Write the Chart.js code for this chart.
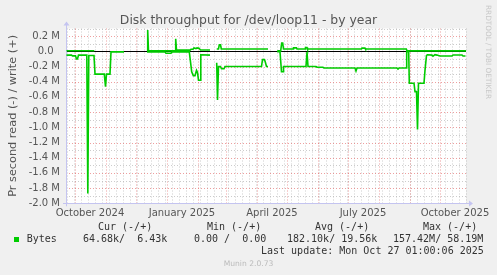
<!DOCTYPE html>
<html>
<head>
<meta charset="utf-8">
<script src="https://cdn.jsdelivr.net/npm/chart.js@4.4.1/dist/chart.umd.min.js"></script>
<style>
  html, body { margin: 0; padding: 0; background: #f0f0f0; }
  #wrap { position: relative; width: 497px; height: 275px; overflow: hidden; }
  #chart { position: absolute; left: 0; top: 0; }
  .t { position: absolute; white-space: pre; font-family: 'DejaVu Sans', sans-serif; color: #444; }
  .mono { font-family: 'DejaVu Sans Mono', monospace; font-size: 10px; line-height: 10px; color: #333; }
  #title { left: 0; width: 497px; text-align: center; top: 13.5px; font-size: 12.4px; line-height: 12.4px; color: #555; }
  #rrd { left: 483.5px; top: 5px; font-size: 7.3px; line-height: 8px; color: #c8c8c8; writing-mode: vertical-rl; }
  #munin { left: 0; width: 497px; text-align: center; top: 260px; font-size: 7.6px; line-height: 7.6px; color: #bbb; }
  #swatch { position: absolute; left: 14px; top: 237px; width: 5px; height: 5px; background: #00cc00; }
</style>
</head>
<body>
<div id="wrap">
  <canvas id="chart" width="497" height="275"></canvas>
  <div class="t" id="title">Disk throughput for /dev/loop11 - by year</div>
  <div class="t" id="rrd">RRDTOOL / TOBI OETIKER</div>
  <div class="t mono" style="left:98px;top:222.3px">Cur (-/+)</div>
  <div class="t mono" style="left:207px;top:222.3px">Min (-/+)</div>
  <div class="t mono" style="left:315px;top:222.3px">Avg (-/+)</div>
  <div class="t mono" style="left:423px;top:222.3px">Max (-/+)</div>
  <div id="swatch"></div>
  <div class="t mono" style="left:26.7px;top:233.8px">Bytes</div>
  <div class="t mono" style="left:83px;top:233.8px">64.68k/  6.43k</div>
  <div class="t mono" style="left:194px;top:233.8px">0.00 /  0.00</div>
  <div class="t mono" style="left:287px;top:233.8px">182.10k/ 19.56k</div>
  <div class="t mono" style="left:393px;top:233.8px">157.42M/ 58.19M</div>
  <div class="t mono" style="left:261px;top:246px">Last update: Mon Oct 27 01:00:06 2025</div>
  <div class="t" id="munin">Munin 2.0.73</div>
</div>
<script>
// time axis: days since the left edge of the graph (400 days ending at last update)
const startTime = Date.UTC(2024, 8, 22, 1, 0, 6)
const dayMs = 86400000
const spanDays = 400

// read (drawn negative), values in M bytes/s, null = no data
const readDays = [0.5, 5.5, 6.5, 9.5, 10.5, 11.5, 12.5, 20.8, 21.8, 22.8, 28, 29, 38.3, 39.5, 40.5, 44, 45, 58, 58.5,
    81, 99, 100, 105, 106, 123.3, 125.7, 127.3, 129, 130.5, 131.5, 132.5, 134.3, 134.8, 144, 146,
    150.7, 151.5, 152.5, 154.5, 155.5, 158, 159, 195.5, 196.5, 198.5, 199.5, 200.5, 202, 205,
    211.3, 214, 215.5, 217, 217.5, 240, 241, 242, 250, 251, 257, 258, 289, 290, 291, 331, 332, 333, 340,
    340.7, 342.7, 343.3, 348, 349, 350.5, 351.5, 352.5, 358, 359, 360.5, 361.5, 366, 367, 369, 371, 374,
    386, 387, 396, 397, 399.5]
const readValues = [-0.05, -0.05, -0.06, -0.06, -0.10, -0.10, -0.05, -0.05, -1.87, -0.055, -0.055, -0.30, -0.30, -0.465, -0.30, -0.30, -0.008, -0.008, null,
    -0.01, -0.01, -0.025, -0.025, -0.008, -0.008, -0.27, -0.32, -0.32, -0.25, -0.28, -0.38, -0.38, -0.045, -0.05, null,
    -0.15, -0.64, -0.20, -0.20, -0.23, -0.23, -0.20, -0.20, -0.11, -0.11, -0.15, -0.20, -0.20, null,
    -0.005, -0.005, -0.27, -0.27, -0.20, -0.20, -0.01, -0.20, -0.20, -0.21, -0.21, -0.22, -0.22, -0.26, -0.22, -0.22, -0.235, -0.22, -0.22,
    -0.005, -0.005, -0.42, -0.42, -0.53, -0.53, -1.03, -0.42, -0.42, -0.25, -0.055, -0.045, -0.05, -0.065, -0.045, -0.05, -0.062,
    -0.062, -0.048, -0.048, -0.062, -0.062]

// write (drawn positive)
const writeDays = [0.5, 28.3, 29,
    81, 81.7, 82.5, 109, 109.7, 110.5, 124, 125, 127, 128, 130, 131, 133, 134.5, 144, 147,
    150.7, 152.5, 153.3, 154.5, 155.3, 202, 205,
    211.3, 214.7, 215.7, 216.7, 217.5, 227, 227.5, 230.5, 231, 239, 239.5, 241, 241.5, 295.5, 296, 299, 299.5, 340.3, 341, 400]
const writeValues = [0.008, 0.008, null,
    0.005, 0.28, 0.005, 0.005, 0.166, 0.015, 0.015, 0.026, 0.026, 0.043, 0.035, 0.045, 0.04, 0.017, 0.017, null,
    0.03, 0.03, 0.085, 0.085, 0.03, 0.03, null,
    0.005, 0.005, 0.11, 0.11, 0.03, 0.03, 0.045, 0.045, 0.03, 0.03, 0.05, 0.05, 0.03, 0.03, 0.042, 0.042, 0.03, 0.03, 0.006, 0.006]

const yTickValues = [-2.0, -1.8, -1.6, -1.4, -1.2, -1.0, -0.8, -0.6, -0.4, -0.2, 0.0, 0.2]
const xLabels = ['October 2024', 'January 2025', 'April 2025', 'July 2025', 'October 2025']
const xLabelDates = [[2024, 9, 16], [2025, 0, 16], [2025, 3, 16], [2025, 6, 16], [2025, 9, 16]]

const toDay = (y, m, d) => (Date.UTC(y, m, d) - startTime) / dayMs
const labelDays = xLabelDates.map(d => toDay(d[0], d[1], d[2]))

// month starts (major grid) and mondays (minor grid)
const monthStarts = []
for (let y = 2024, m = 9; toDay(y, m, 1) < spanDays; m++) {
    if (m > 11) { m = 0; y++ }
    monthStarts.push(toDay(y, m, 1))
}
const mondays = []
for (let d = toDay(2024, 8, 23); d < spanDays; d += 7) mondays.push(d)

const green = '#00cc00'
const majorColor = 'rgba(224, 80, 80, 0.55)'
const minorColor = 'rgba(170, 170, 170, 0.6)'
const axisColor = '#c4c4f0'

const muninGrid = {
    id: 'muninGrid',
    beforeDatasetsDraw(chart) {
        const { ctx, chartArea: a, scales: { x, y } } = chart
        ctx.save()
        ctx.fillStyle = '#ffffff'
        ctx.fillRect(a.left, a.top, a.right - a.left, a.bottom - a.top)
        ctx.lineWidth = 1
        ctx.setLineDash([1, 2])

        const vline = (d, color) => {
            const px = Math.round(x.getPixelForValue(d)) + 0.5
            ctx.strokeStyle = color
            ctx.beginPath(); ctx.moveTo(px, a.top); ctx.lineTo(px, a.bottom); ctx.stroke()
        }
        const hline = (v, color) => {
            const py = Math.round(y.getPixelForValue(v)) + 0.5
            ctx.strokeStyle = color
            ctx.beginPath(); ctx.moveTo(a.left, py); ctx.lineTo(a.right, py); ctx.stroke()
        }
        mondays.forEach(d => vline(d, minorColor))
        for (let i = -19; i <= 3; i += 2) hline(i / 10, minorColor)
        monthStarts.forEach(d => vline(d, majorColor))
        yTickValues.forEach(v => hline(v, majorColor))

        ctx.setLineDash([])
        // zero line
        ctx.strokeStyle = '#000'
        const zy = Math.round(y.getPixelForValue(0)) + 0.5
        ctx.beginPath(); ctx.moveTo(a.left, zy); ctx.lineTo(a.right, zy); ctx.stroke()

        // axes with arrows
        ctx.strokeStyle = axisColor
        ctx.fillStyle = axisColor
        const ax = Math.round(a.left) + 0.5
        const ay = Math.round(a.bottom) + 0.5
        ctx.beginPath(); ctx.moveTo(ax, a.bottom + 3); ctx.lineTo(ax, a.top - 4); ctx.stroke()
        ctx.beginPath(); ctx.moveTo(a.left - 3, ay); ctx.lineTo(a.right + 4, ay); ctx.stroke()
        ctx.beginPath(); ctx.moveTo(ax - 3, a.top - 3); ctx.lineTo(ax + 3, a.top - 3); ctx.lineTo(ax, a.top - 7); ctx.closePath(); ctx.fill()
        ctx.beginPath(); ctx.moveTo(a.right + 3, ay - 3); ctx.lineTo(a.right + 3, ay + 3); ctx.lineTo(a.right + 7, ay); ctx.closePath(); ctx.fill()
        ctx.restore()
    }
}

const tickFont = { family: 'DejaVu Sans', size: 10 }

new Chart(document.getElementById('chart'), {
    type: 'line',
    data: {
        datasets: [
            {
                label: 'read',
                data: readDays.map((d, i) => ({ x: d, y: readValues[i] })),
                borderColor: green,
                borderWidth: 1.6
            },
            {
                label: 'write',
                data: writeDays.map((d, i) => ({ x: d, y: writeValues[i] })),
                borderColor: green,
                borderWidth: 1.6
            }
        ]
    },
    options: {
        responsive: false,
        animation: false,
        spanGaps: false,
        layout: { padding: { left: 0, right: 31, top: 28.5, bottom: 0 } },
        elements: { point: { radius: 0 }, line: { tension: 0 } },
        plugins: { legend: { display: false }, tooltip: { enabled: false } },
        scales: {
            x: {
                type: 'linear',
                min: 0,
                max: spanDays,
                afterFit(s) { s.height = 71.7 },
                afterBuildTicks(s) { s.ticks = labelDays.map(v => ({ value: v })) },
                grid: { display: false, drawTicks: false },
                border: { display: false },
                ticks: {
                    autoSkip: false,
                    maxRotation: 0,
                    padding: 4,
                    color: '#555',
                    font: tickFont,
                    callback: (v, i) => xLabels[i]
                }
            },
            y: {
                min: -2.0,
                max: 0.3,
                afterFit(s) { s.width = 66 },
                afterBuildTicks(s) { s.ticks = yTickValues.map(v => ({ value: v })) },
                grid: { display: false, drawTicks: false },
                border: { display: false },
                ticks: {
                    padding: 6,
                    color: '#555',
                    font: tickFont,
                    callback: v => Math.abs(v) < 1e-9 ? '0.0  ' : v.toFixed(1) + ' M'
                },
                title: {
                    display: true,
                    text: 'Pr second read (-) / write (+)',
                    color: '#555',
                    font: { family: 'DejaVu Sans', size: 11.3 },
                    padding: { top: 6, bottom: 0 }
                }
            }
        }
    },
    plugins: [muninGrid]
})
</script>
</body>
</html>
